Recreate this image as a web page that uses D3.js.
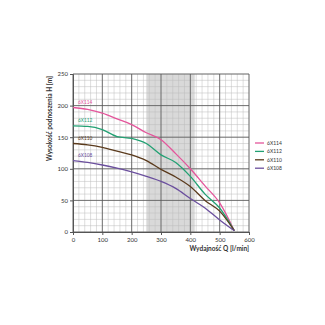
<!DOCTYPE html>
<html>
<head>
<meta charset="utf-8">
<script src="https://cdn.jsdelivr.net/npm/d3@7"></script>
<style>
  body { margin: 0; background: #fff; }
  text { font-family: Lato, "DejaVu Sans", sans-serif; fill: #333; }
</style>
</head>
<body>
<div id="chart"></div>
<script>
var flow = [0, 50, 100, 150, 200, 250, 300, 350, 400, 450, 500, 550]
var h114 = [197, 194, 188, 179, 170, 157, 146, 124, 100, 73, 46, 2]
var h112 = [168, 167, 162, 151, 148, 140, 122, 110, 88, 60, 38, 2]
var h110 = [140, 138, 134, 128, 122, 113, 99, 87, 72, 50, 33, 2]
var h108 = [113, 110, 106, 101, 95, 88, 80, 69, 53, 38, 19, 2]
var seriesNames = ['6X114', '6X112', '6X110', '6X108']
var seriesValues = [h114, h112, h110, h108]
var colors = ['#e4559b', '#22a173', '#5a3a1c', '#6b4f9e']
var xTicks = [0, 100, 200, 300, 400, 500, 600]
var yTicks = [0, 50, 100, 150, 200, 250]
var band = [250, 415]

var width = 325, height = 325
var margin = {top: 74, right: 76, bottom: 93, left: 73}
var w = width - margin.left - margin.right
var h = height - margin.top - margin.bottom

var svg = d3.select('#chart').append('svg')
  .attr('width', width)
  .attr('height', height)

var g = svg.append('g')
  .attr('transform', 'translate(' + margin.left + ',' + margin.top + ')')

var x = d3.scaleLinear().domain([0, 600]).range([0, w])
var y = d3.scaleLinear().domain([0, 250]).range([h, 0])

// shaded working range
g.append('rect')
  .attr('x', x(band[0]))
  .attr('y', 0)
  .attr('width', x(band[1]) - x(band[0]))
  .attr('height', h)
  .attr('fill', '#d9d9d9')

// minor grid
g.append('g').selectAll('line').data(d3.range(0, 601, 20)).enter().append('line')
  .attr('x1', function(d) { return x(d) }).attr('x2', function(d) { return x(d) })
  .attr('y1', 0).attr('y2', h)
  .attr('stroke', '#bdbdbd').attr('stroke-width', 0.5)
g.append('g').selectAll('line').data(d3.range(0, 251, 10)).enter().append('line')
  .attr('y1', function(d) { return y(d) }).attr('y2', function(d) { return y(d) })
  .attr('x1', 0).attr('x2', w)
  .attr('stroke', '#bdbdbd').attr('stroke-width', 0.5)

// major grid
g.append('g').selectAll('line').data(xTicks).enter().append('line')
  .attr('x1', function(d) { return x(d) }).attr('x2', function(d) { return x(d) })
  .attr('y1', 0).attr('y2', h)
  .attr('stroke', '#555').attr('stroke-width', 0.8)
g.append('g').selectAll('line').data(yTicks).enter().append('line')
  .attr('y1', function(d) { return y(d) }).attr('y2', function(d) { return y(d) })
  .attr('x1', 0).attr('x2', w)
  .attr('stroke', '#555').attr('stroke-width', 0.8)

var xAxis = d3.axisBottom(x).tickValues(xTicks).tickSize(3).tickPadding(3)
var yAxis = d3.axisLeft(y).tickValues(yTicks).tickSize(3).tickPadding(2)

g.append('g')
  .attr('transform', 'translate(0,' + h + ')')
  .call(xAxis)
  .call(function(s) {
    s.select('.domain').attr('stroke', '#555')
    s.selectAll('.tick line').attr('stroke', '#555')
    s.selectAll('text').attr('font-size', 6).attr('fill', '#333')
  })

g.append('g')
  .call(yAxis)
  .call(function(s) {
    s.select('.domain').attr('stroke', '#555')
    s.selectAll('.tick line').attr('stroke', '#555')
    s.selectAll('text').attr('font-size', 6).attr('fill', '#333')
  })

var line = d3.line()
  .x(function(d, i) { return x(flow[i]) })
  .y(function(d) { return y(d) })
  .curve(d3.curveMonotoneX)

g.selectAll('.curve').data(seriesValues).enter().append('path')
  .attr('class', 'curve')
  .attr('d', line)
  .attr('fill', 'none')
  .attr('stroke', function(d, i) { return colors[i] })
  .attr('stroke-width', 1.3)

// curve labels
g.selectAll('.clabel').data(seriesValues).enter().append('text')
  .attr('class', 'clabel')
  .attr('x', 5)
  .attr('y', function(d) { return y(d[0]) - 3.5 })
  .attr('font-size', 4.8)
  .style('fill', function(d, i) { return colors[i] })
  .text(function(d, i) { return seriesNames[i] })

// legend
var legend = svg.append('g').attr('transform', 'translate(255,143)')
var item = legend.selectAll('g').data(seriesNames).enter().append('g')
  .attr('transform', function(d, i) { return 'translate(0,' + (i * 8.4) + ')' })
item.append('line')
  .attr('x1', 0).attr('x2', 9).attr('y1', 0).attr('y2', 0)
  .attr('stroke', function(d, i) { return colors[i] })
  .attr('stroke-width', 1.3)
item.append('text')
  .attr('x', 12).attr('y', 1.8)
  .attr('font-size', 5)
  .text(function(d) { return d })

// axis titles
svg.append('text')
  .attr('transform', 'translate(52,' + (margin.top + 2) + ') rotate(-90)')
  .attr('text-anchor', 'end')
  .attr('font-size', 6.5)
  .attr('font-weight', 'bold')
  .text('Wysokość podnoszenia H [m]')

svg.append('text')
  .attr('x', margin.left + w)
  .attr('y', 251)
  .attr('text-anchor', 'end')
  .attr('font-size', 6.5)
  .attr('font-weight', 'bold')
  .text('Wydajność Q [l/min]')
</script>
</body>
</html>
